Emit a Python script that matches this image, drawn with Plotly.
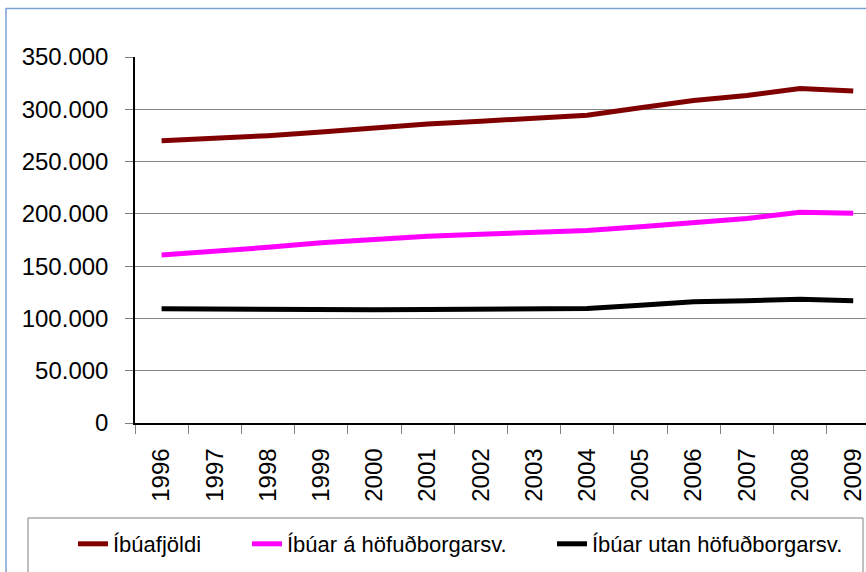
import plotly.graph_objects as go

years = ["1996", "1997", "1998", "1999", "2000", "2001", "2002",
         "2003", "2004", "2005", "2006", "2007", "2008", "2009"]
ibuafjoldi = [269900, 271800, 274800, 278200, 282300, 286000, 288600,
              291000, 294300, 301500, 308500, 313200, 319900, 317500]
hofudborg = [160700, 164000, 168000, 172300, 175800, 178500, 180500,
             182600, 184000, 187700, 191900, 195600, 201500, 200500]
utan = [109200, 108800, 108000, 107700, 108200, 108500, 108600,
        108700, 109400, 112500, 116000, 117000, 118300, 117000]

series_names = ["Íbúafjöldi", "Íbúar á höfuðborgarsv.", "Íbúar utan höfuðborgarsv."]
series_values = [ibuafjoldi, hofudborg, utan]
series_colors = ["#800000", "#FF00FF", "#000000"]
legend_ids = ["legend", "legend2", "legend3"]

FONT = "Liberation Sans, Arial, sans-serif"

W, H = 866, 572
L, T, R, B = 135, 57, 0, 149
pw = W - L - R
ph = H - T - B


def px_x(p):
    return (p - L) / pw


def px_y(p):
    return (H - B - p) / ph


fig = go.Figure()
for name, vals, col, lg in zip(series_names, series_values, series_colors, legend_ids):
    fig.add_trace(go.Scatter(x=years, y=vals, name=name, mode="lines",
                             line=dict(color=col, width=5), legend=lg))

legend_text_x = [111, 285, 590]


def legend_cfg(tx):
    return dict(orientation="h", x=px_x(tx - 38), xanchor="left",
                y=px_y(544), yanchor="middle",
                borderwidth=0, bgcolor="rgba(0,0,0,0)",
                font=dict(family=FONT, size=22, color="#000000"))


fig.update_layout(
    width=W, height=H,
    margin=dict(l=L, r=R, t=T, b=B, pad=0),
    paper_bgcolor="white", plot_bgcolor="white",
    separators=",.",
    font=dict(family=FONT, size=24, color="#000000"),
    showlegend=True,
    legend=legend_cfg(legend_text_x[0]),
    legend2=legend_cfg(legend_text_x[1]),
    legend3=legend_cfg(legend_text_x[2]),
    xaxis=dict(type="category", range=[-0.5, 13.24],
               tickson="boundaries", ticks="outside", ticklen=9,
               tickcolor="#808080", tickwidth=1,
               tickangle=-90, showgrid=False, ticklabelstandoff=14,
               showline=True, linecolor="#000000", linewidth=1.5,
               tickfont=dict(family=FONT, size=24, color="#000000"),
               zeroline=False),
    yaxis=dict(range=[0, 350000], dtick=50000, tickformat=",",
               ticks="outside", ticklen=8, tickcolor="#808080", tickwidth=1,
               showgrid=True, gridcolor="#868686", gridwidth=1,
               showline=True, linecolor="#000000", linewidth=1.5,
               zeroline=False, ticklabelstandoff=12,
               tickfont=dict(family=FONT, size=24, color="#000000")),
    shapes=[
        dict(type="rect", xref="paper", yref="paper",
             x0=px_x(6), y0=px_y(8.5), x1=1.2, y1=-0.6,
             line=dict(color="#7BA3D6", width=1.5),
             fillcolor="rgba(0,0,0,0)", layer="below"),
        dict(type="rect", xref="paper", yref="paper",
             x0=px_x(28), y0=px_y(518), x1=px_x(863), y1=-0.6,
             line=dict(color="#808080", width=1),
             fillcolor="white", layer="below"),
    ],
)

fig.write_html("out.html",
               config={"displayModeBar": False},
               post_script="document.body.style.margin='0';document.body.style.padding='0';")
